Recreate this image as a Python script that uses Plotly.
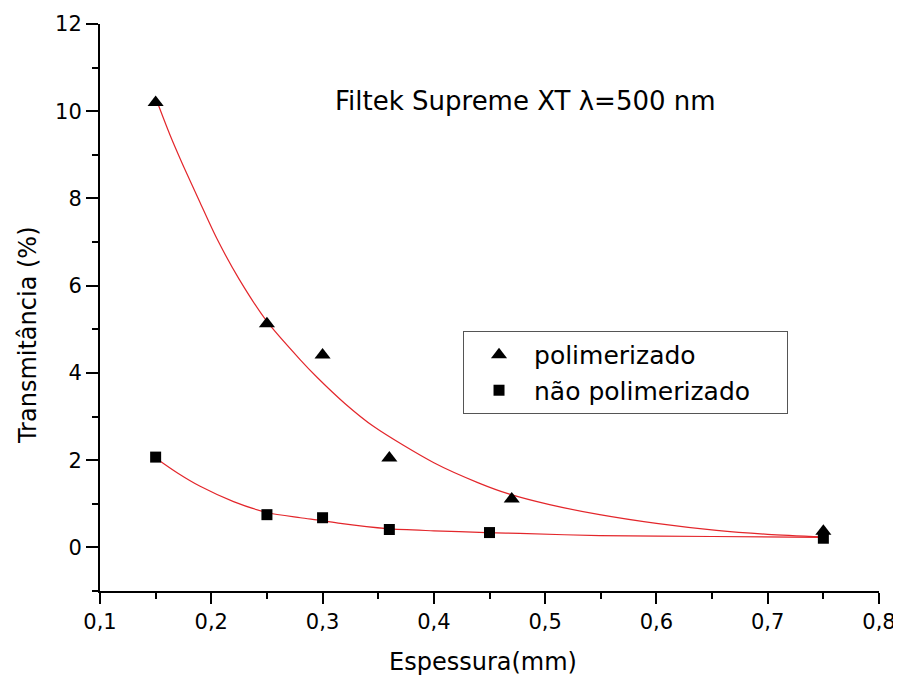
import plotly.graph_objects as go

# measured data
x_pol = [0.15, 0.25, 0.30, 0.36, 0.47, 0.75]
y_pol = [10.2, 5.13, 4.41, 2.05, 1.11, 0.37]
x_nao = [0.15, 0.25, 0.30, 0.36, 0.45, 0.75]
y_nao = [2.07, 0.75, 0.68, 0.41, 0.34, 0.21]

# fit curves
x_fit_pol = [0.151, 0.163, 0.175, 0.19, 0.205, 0.225, 0.25, 0.28, 0.295, 0.32, 0.346, 0.40, 0.44, 0.468, 0.504, 0.549, 0.60, 0.654, 0.70, 0.75]
y_fit_pol = [10.24, 9.45, 8.74, 7.90, 7.08, 6.15, 5.18, 4.30, 3.90, 3.30, 2.77, 1.94, 1.48, 1.22, 0.98, 0.75, 0.55, 0.39, 0.30, 0.24]
x_fit_nao = [0.15, 0.17, 0.19, 0.22, 0.25, 0.28, 0.298, 0.316, 0.358, 0.40, 0.447, 0.477, 0.549, 0.65, 0.75]
y_fit_nao = [2.05, 1.70, 1.40, 1.05, 0.80, 0.68, 0.62, 0.55, 0.43, 0.38, 0.34, 0.32, 0.27, 0.25, 0.23]

FONT = "DejaVu Sans, Arial, sans-serif"
RED = "#e3262b"

fig = go.Figure()
fig.add_trace(go.Scatter(x=x_fit_pol, y=y_fit_pol, mode="lines", line=dict(color=RED, width=1.2, shape="spline", smoothing=0.8),
                         showlegend=False, hoverinfo="skip"))
fig.add_trace(go.Scatter(x=x_fit_nao, y=y_fit_nao, mode="lines", line=dict(color=RED, width=1.2, shape="spline", smoothing=0.8),
                         showlegend=False, hoverinfo="skip"))
fig.add_trace(go.Scatter(x=x_pol, y=y_pol, mode="markers", name="polimerizado",
                         marker=dict(symbol="triangle-up", size=14, color="black")))
fig.add_trace(go.Scatter(x=x_nao, y=y_nao, mode="markers", name="não polimerizado\u00a0\u00a0\u00a0\u00a0",
                         marker=dict(symbol="square", size=11, color="black")))

axis_common = dict(showline=True, linecolor="black", linewidth=2, ticks="outside", tickwidth=2,
                   tickcolor="black", showgrid=False, zeroline=False, mirror=False, automargin=False,
                   tickfont=dict(family=FONT, size=21, color="black"))

fig.update_layout(
    width=893, height=671,
    margin=dict(l=92, r=22, t=16, b=88, pad=0),
    paper_bgcolor="white", plot_bgcolor="white",
    separators=",.",
    font=dict(family=FONT, color="black"),
    xaxis=dict(range=[0.1, 0.8], dtick=0.1, tick0=0.1, tickformat=".1f", ticklen=11,
               minor=dict(dtick=0.05, tick0=0.1, ticklen=6, tickwidth=2, tickcolor="black", ticks="outside"),
               **axis_common),
    yaxis=dict(range=[-1, 12], dtick=2, tick0=0, ticklen=12,
               minor=dict(dtick=1, tick0=0, ticklen=6, tickwidth=2, tickcolor="black", ticks="outside"),
               **axis_common),
    legend=dict(x=0.466, y=0.4586, xanchor="left", yanchor="top", bordercolor="#555555", borderwidth=1,
                bgcolor="white", font=dict(family=FONT, size=25, color="black"),
                itemwidth=60, tracegroupgap=0),
    annotations=[
        dict(text="Filtek Supreme XT λ=500 nm", x=0.309, y=10.24, xref="x", yref="y",
             xanchor="left", yanchor="middle", showarrow=False,
             font=dict(family=FONT, size=26, color="black")),
        dict(text="Espessura(mm)", x=0.4917, y=-0.125, xref="paper", yref="paper",
             xanchor="center", yanchor="middle", showarrow=False,
             font=dict(family=FONT, size=24, color="black")),
        dict(text="Transmitância (%)", x=-0.0924, y=0.4515, xref="paper", yref="paper",
             xanchor="center", yanchor="middle", showarrow=False, textangle=-90,
             font=dict(family=FONT, size=24, color="black")),
    ],
)

fig.write_html("out.html")
